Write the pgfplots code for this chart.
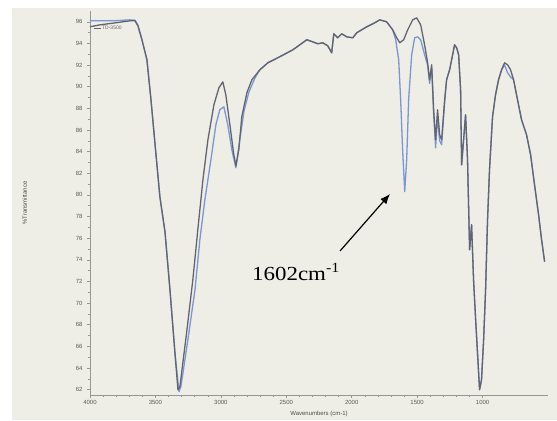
\documentclass[border=0pt]{standalone}
\usepackage{pgfplots}
\pgfplotsset{compat=1.18}
\usetikzlibrary{arrows.meta}
\usepackage{fontspec}
\setmainfont{Liberation Serif}
\newfontfamily\tickfont{Liberation Sans}
\definecolor{panel}{RGB}{238,238,230}
\definecolor{grayline}{RGB}{98,100,112}
\definecolor{blueline}{RGB}{122,150,212}
\definecolor{axisgray}{RGB}{150,150,150}

\begin{document}
\begin{tikzpicture}[x=1bp,y=1bp]
  % page and panel
  \fill[white] (0,0) rectangle (557,420);
  \fill[panel] (12,0) rectangle (557,412);

  \begin{axis}[
      at={(90bp,25bp)}, anchor=south west,
      scale only axis,
      width=458bp, height=384bp,
      xmin=500, xmax=4000, ymin=61.5, ymax=97,
      x dir=reverse,
      axis lines*=left,
      axis line style={axisgray, line width=0.6pt},
      xtick={1000,1500,2000,2500,3000,3500,4000},
      minor x tick num=4,
      ytick={62,64,...,96},
      minor y tick num=1,
      tick style={axisgray, line width=0.5pt},
      major tick length=3bp, minor tick length=2bp,
      tick align=outside,
      ticklabel style={font=\tickfont\fontsize{6}{6}\selectfont, text=black!65},
      /pgf/number format/assume math mode=true,
      /pgf/number format/1000 sep={},
      xticklabel style={yshift=1bp},
      yticklabel style={xshift=-1bp},
      xlabel={Wavenumbers (cm-1)},
      ylabel={\%Transmittance},
      label style={font=\tickfont\fontsize{6}{6}\selectfont, text=black!70},
      xlabel style={yshift=0bp},
      ylabel style={yshift=42bp},
      clip=false,
    ]
    % blue trace
    \addplot[blueline, line width=1.3pt, line join=round] coordinates {
      (4000,96.09) (3924,96.09) (3809,96.1) (3695,96.18) (3656,96.15)
      (3634,95.7) (3603,94.34) (3565,92.49) (3534,88.79) (3504,84.82)
      (3466,79.83) (3427,76.59) (3389,71.23) (3351,65.41) (3320,61.8)
      (3305,62.3) (3252,66.6) (3198,71.2) (3160,75.9) (3122,79.55)
      (3076,83.25) (3038,86.48) (3008,87.87) (2977,88.14) (2947,86.48)
      (2916,84.17) (2885,82.5) (2855,85.1) (2824,87.7) (2786,89.5)
      (2740,90.8) (2702,91.56) (2641,92.21) (2550,92.77) (2450,93.41)
      (2397,93.87) (2343,94.34) (2298,94.15) (2259,93.97) (2221,94.06)
      (2183,93.78) (2153,93.13) (2137,94.89) (2107,94.52) (2076,94.89)
      (2038,94.61) (1992,94.52) (1962,94.98) (1924,95.26) (1885,95.54)
      (1824,95.91) (1786,96.18) (1733,96.0) (1687,95.26) (1664,94.34)
      (1641,92.49) (1626,88.79) (1611,84.17) (1595,80.29) (1580,83.25)
      (1565,88.79) (1542,92.95) (1519,94.52) (1496,94.61) (1473,94.34)
      (1443,92.95) (1420,92.0) (1405,90.3) (1389,91.8) (1374,87.5)
      (1359,84.35) (1344,87.2) (1328,85.0) (1313,84.63) (1290,88.5)
      (1275,90.64) (1252,91.56) (1229,92.95) (1214,93.87) (1198,93.59)
      (1183,92.95) (1168,89.72) (1160,82.78) (1145,85.09) (1130,87.40)
      (1115,83.25) (1099,74.93) (1084,77.24) (1069,72.16) (1053,68.46)
      (1038,65.22) (1023,61.99) (1008,62.91) (992,66.61) (977,71.23)
      (962,77.70) (947,82.32) (924,87.22) (901,89.25) (878,90.64)
      (855,91.56) (832,92.0) (809,91.3) (786,90.9) (763,90.64)
      (733,88.79) (702,86.94) (664,85.56) (633,83.71) (603,80.94)
      (572,78.16) (549,75.85) (526,73.82)
    };
    % gray trace
    \addplot[grayline, line width=1.3pt, line join=round] coordinates {
      (4000,95.54) (3924,95.72) (3809,95.9) (3695,96.09) (3656,96.09)
      (3634,95.63) (3603,94.34) (3565,92.49) (3534,88.79) (3504,84.82)
      (3466,79.83) (3427,76.59) (3389,71.23) (3351,65.41) (3328,61.99)
      (3313,62.27) (3259,67.53) (3214,72.16) (3176,76.78) (3137,81.40)
      (3099,85.09) (3053,88.33) (3015,89.90) (2985,90.45) (2962,89.25)
      (2931,86.48) (2901,83.71) (2885,82.69) (2863,84.17) (2840,87.22)
      (2801,89.44) (2763,90.64) (2702,91.56) (2641,92.21) (2550,92.77)
      (2450,93.41) (2397,93.87) (2343,94.34) (2298,94.15) (2259,93.97)
      (2221,94.06) (2183,93.78) (2153,93.13) (2137,94.89) (2107,94.52)
      (2076,94.89) (2038,94.61) (1992,94.52) (1962,94.98) (1924,95.26)
      (1885,95.54) (1824,95.91) (1786,96.18) (1733,96.0) (1687,95.26)
      (1656,94.52) (1633,94.06) (1603,94.34) (1572,95.26) (1534,96.18)
      (1504,96.37) (1473,95.72) (1443,93.87) (1420,92.21) (1405,90.64)
      (1389,92.03) (1374,87.87) (1359,85.09) (1344,87.87) (1328,85.56)
      (1313,85.09) (1290,88.79) (1275,90.64) (1252,91.56) (1229,92.95)
      (1214,93.87) (1198,93.59) (1183,92.95) (1168,89.72) (1160,82.78)
      (1145,85.09) (1130,87.40) (1115,83.25) (1099,74.93) (1084,77.24)
      (1069,72.16) (1053,68.46) (1038,65.22) (1023,61.99) (1008,62.91)
      (992,66.61) (977,71.23) (962,77.70) (947,82.32) (924,87.22)
      (901,89.25) (878,90.64) (855,91.56) (832,92.21) (809,92.03)
      (786,91.56) (763,90.64) (733,88.79) (702,86.94) (664,85.56)
      (633,83.71) (603,80.94) (572,78.16) (549,75.85) (526,73.82)
    };
  \end{axis}

  % legend entry
  \draw[grayline, line width=0.8pt] (94,392) -- (101,392);
  \node[anchor=west, inner sep=0pt, font=\tickfont\fontsize{5}{5}\selectfont, text=black!60] at (102,392) {TD-3500};

  % annotation
  \draw[-{Latex[length=10bp,width=8bp]}, line width=1.2pt, black] (340,169) -- (390,226);
  \node[anchor=base west, inner sep=0pt, xscale=1.15, font=\fontsize{20}{20}\selectfont] at (252,140) {1602cm\textsuperscript{-1}};
\end{tikzpicture}
\end{document}
